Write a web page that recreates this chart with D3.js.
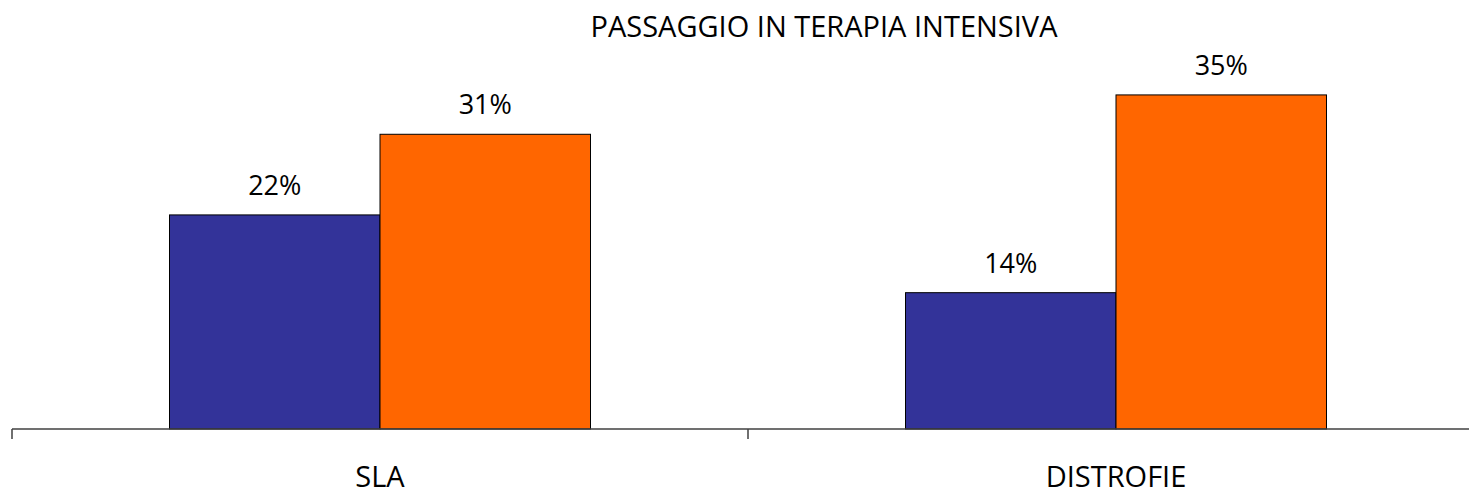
<!DOCTYPE html>
<html><head><meta charset="utf-8">
<script src="https://cdn.jsdelivr.net/npm/d3@7"></script>
<style>body{margin:0;background:#fff}svg{display:block}text{font-family:"Open Sans",sans-serif;fill:#000}</style>
</head><body>
<script>
const title = "PASSAGGIO IN TERAPIA INTENSIVA";
const categories = ["SLA", "DISTROFIE"];
const seriesNames = ["A", "B"];
const seriesA = [0.223, 0.142];
const seriesB = [0.307, 0.348];
const colors = ["#333399", "#FF6600"];

const W = 1469, H = 496;
const svg = d3.select("body").append("svg").attr("width", W).attr("height", H);
const baseY = 429;
const x = d3.scaleBand().domain(categories).range([12, 1484]).paddingInner(0).paddingOuter(0);
const y = d3.scaleLinear().domain([0, 0.4]).range([baseY, baseY - 384]);
const groupInner = 421;
const xs = d3.scaleBand().domain(seriesNames)
  .range([(x.bandwidth() - groupInner) / 2, (x.bandwidth() + groupInner) / 2]).padding(0);

const data = categories.map((c, i) => ({cat: c, vals: [seriesA[i], seriesB[i]]}));

const g = svg.selectAll("g.grp").data(data).enter().append("g")
  .attr("transform", d => `translate(${x(d.cat)},0)`);
g.selectAll("rect").data(d => d.vals.map((v, j) => ({v, s: seriesNames[j], j})))
  .enter().append("rect")
  .attr("x", d => xs(d.s)).attr("width", xs.bandwidth())
  .attr("y", d => y(d.v)).attr("height", d => baseY - y(d.v))
  .attr("fill", d => colors[d.j]).attr("stroke", "#000").attr("stroke-width", 1);
g.selectAll("text.lbl").data(d => d.vals.map((v, j) => ({v, s: seriesNames[j]})))
  .enter().append("text")
  .attr("x", d => xs(d.s) + xs.bandwidth() / 2).attr("y", d => y(d.v) - 20)
  .attr("text-anchor", "middle").attr("font-size", 27)
  .text(d => Math.round(d.v * 100) + "%");

// axis
svg.append("line").attr("x1", 12).attr("x2", W).attr("y1", baseY).attr("y2", baseY)
  .attr("stroke", "#404040").attr("stroke-width", 1.5);
const bounds = categories.map(c => x(c));
svg.selectAll("line.tick").data(bounds).enter().append("line")
  .attr("x1", d => d).attr("x2", d => d).attr("y1", baseY).attr("y2", baseY + 10)
  .attr("stroke", "#404040").attr("stroke-width", 1.5);
svg.selectAll("text.cat").data(categories).enter().append("text")
  .attr("x", d => x(d) + x.bandwidth() / 2).attr("y", 487)
  .attr("text-anchor", "middle").attr("font-size", 29).text(d => d);

svg.append("text").attr("x", 824).attr("y", 37).attr("text-anchor", "middle")
  .attr("font-size", 29).text(title);
</script>
</body></html>
